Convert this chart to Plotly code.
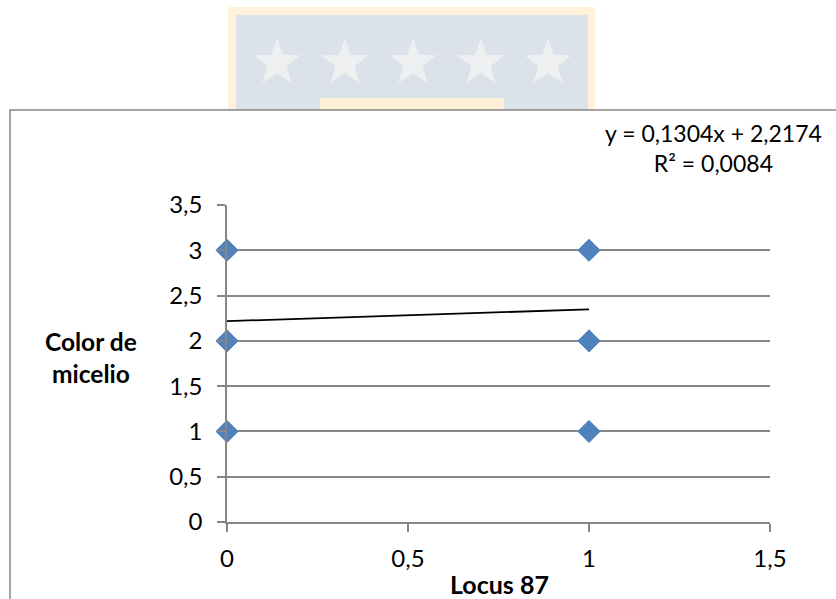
import math
import plotly.graph_objects as go

# Observed genotype (Locus 87) vs mycelium colour score
locus_87 = [0, 0, 0, 1, 1, 1]
color_micelio = [1, 2, 3, 1, 2, 3]

# Linear trendline fitted in the source workbook
slope = 0.1304
intercept = 2.2174
r_squared = 0.0084
trend_x = [0, 1]

x_ticks = [0, 0.5, 1, 1.5]
x_tick_text = ["0", "0,5", "1", "1,5"]
y_ticks = [0, 0.5, 1, 1.5, 2, 2.5, 3, 3.5]
y_tick_text = ["0", "0,5", "1", "1,5", "2", "2,5", "3", "3,5"]

W, H = 836, 599
ML, MR, MT, MB = 227, 66, 205, 77
PW, PH = W - ML - MR, H - MT - MB


def px(x):
    return (x - ML) / PW


def py(y):
    return (H - MB - y) / PH


FONT = "Lato"
GRID = "#868686"


def dec(v, nd):
    return f"{v:.{nd}f}".replace(".", ",")


fig = go.Figure()

fig.add_trace(go.Scatter(
    x=trend_x,
    y=[intercept + slope * v for v in trend_x],
    mode="lines",
    line=dict(color="black", width=1.8),
    hoverinfo="skip",
    showlegend=False,
))

fig.add_trace(go.Scatter(
    x=locus_87,
    y=color_micelio,
    mode="markers",
    marker=dict(symbol="diamond", size=17, color="#4F81BD",
                line=dict(color="#4A7EBB", width=1)),
    cliponaxis=False,
    showlegend=False,
))

shapes = []

# faint crest in the page header behind the chart
shapes.append(dict(type="rect", xref="paper", yref="paper", layer="below",
                   x0=px(228), x1=px(595), y0=py(110), y1=py(7),
                   fillcolor="#FFF1DA", line=dict(width=0)))
shapes.append(dict(type="rect", xref="paper", yref="paper", layer="below",
                   x0=px(236), x1=px(588), y0=py(110), y1=py(15),
                   fillcolor="#DCE2EA", line=dict(width=0)))
shapes.append(dict(type="rect", xref="paper", yref="paper", layer="below",
                   x0=px(320), x1=px(504), y0=py(110), y1=py(98),
                   fillcolor="#FFEFD6", line=dict(width=0)))


def star_path(cx, cy, r_out, r_in):
    pts = []
    for i in range(10):
        ang = -math.pi / 2 + i * math.pi / 5
        r = r_out if i % 2 == 0 else r_in
        pts.append((px(cx + r * math.cos(ang)), py(cy + r * math.sin(ang))))
    return "M " + " L ".join(f"{a:.5f},{b:.5f}" for a, b in pts) + " Z"


for cx in [277, 345, 413, 481, 548]:
    shapes.append(dict(type="path", xref="paper", yref="paper", layer="below",
                       path=star_path(cx, 63, 25, 10),
                       fillcolor="#EEEFF1", line=dict(width=0)))

# white chart area with grey border
shapes.append(dict(type="rect", xref="paper", yref="paper", layer="below",
                   x0=px(10), x1=px(900), y0=py(700), y1=py(110),
                   fillcolor="white", line=dict(color=GRID, width=1.5)))

annotations = [
    dict(text=f"y = {dec(slope, 4)}x + {dec(intercept, 4)}<br>R² = {dec(r_squared, 4)}",
         xref="paper", yref="paper", x=px(713), y=py(148),
         xanchor="center", yanchor="middle", align="center", showarrow=False,
         font=dict(family=FONT, size=23, color="black")),
    dict(text="<b>Color de<br>micelio</b>",
         xref="paper", yref="paper", x=px(91), y=py(357),
         xanchor="center", yanchor="middle", align="center", showarrow=False,
         font=dict(family=FONT, size=24.5, color="black")),
    dict(text="<b>Locus 87</b>",
         xref="paper", yref="paper", x=px(499), y=py(584),
         xanchor="center", yanchor="middle", align="center", showarrow=False,
         font=dict(family=FONT, size=25, color="black")),
]

fig.update_layout(
    width=W, height=H,
    margin=dict(l=ML, r=MR, t=MT, b=MB, pad=0),
    paper_bgcolor="white",
    plot_bgcolor="rgba(0,0,0,0)",
    shapes=shapes,
    annotations=annotations,
    font=dict(family=FONT, size=24, color="black"),
    xaxis=dict(range=[0, 1.5], tickvals=x_ticks, ticktext=x_tick_text,
               showgrid=False, zeroline=False, showline=True,
               linecolor=GRID, linewidth=1.5,
               ticks="outside", ticklen=8, tickcolor=GRID, tickwidth=1.5,
               ticklabelstandoff=6,
               tickfont=dict(family=FONT, size=24, color="black")),
    yaxis=dict(range=[0, 3.5], tickvals=y_ticks, ticktext=y_tick_text,
               showgrid=True, gridcolor=GRID, gridwidth=1.5,
               zeroline=False, showline=True,
               linecolor=GRID, linewidth=1.5,
               ticks="outside", ticklen=8, tickcolor=GRID, tickwidth=1.5,
               ticklabelstandoff=10,
               tickfont=dict(family=FONT, size=24, color="black")),
)

fig.write_html("out.html")
